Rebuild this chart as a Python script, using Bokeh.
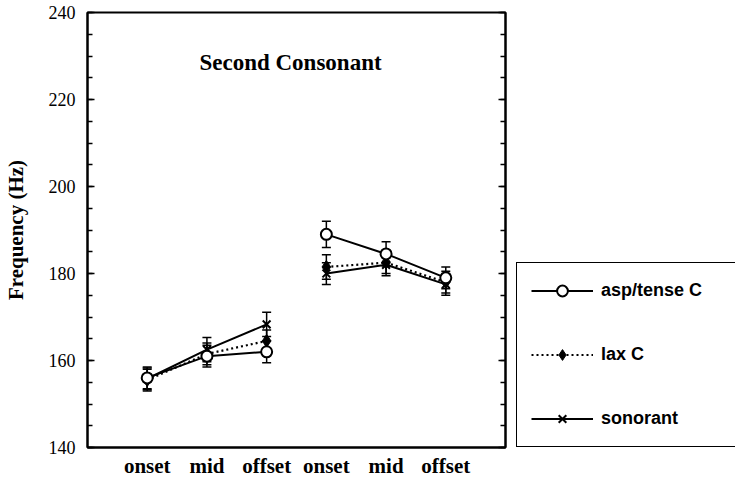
from bokeh.plotting import figure
from bokeh.layouts import row
from bokeh.models import (Range1d, LinearAxis, FixedTicker, Whisker, TeeHead,
                          ColumnDataSource, Legend, LegendItem, Label)
from bokeh.embed import file_html
from bokeh.resources import INLINE

# ---- data ----
x = [1, 2, 3, 4, 5, 6]
tick_labels = ["onset", "mid", "offset", "onset", "mid", "offset"]
asp = [156.0, 161.0, 162.0, 189.0, 184.5, 179.0]
asp_err = [2.5, 2.5, 2.5, 3.0, 2.8, 2.5]
lax = [155.5, 161.5, 164.5, 181.5, 182.5, 178.0]
lax_err = [2.5, 2.5, 2.5, 2.8, 2.5, 2.5]
son = [155.8, 162.5, 168.3, 180.0, 182.0, 177.5]
son_err = [2.5, 2.8, 2.8, 2.5, 2.5, 2.5]
series_names = ["asp/tense C", "lax C", "sonorant"]
title_text = "Second Consonant"
y_label = "Frequency (Hz)"
y_ticks = [140, 160, 180, 200, 220, 240]
y_minor = list(range(140, 241, 5))

p = figure(width=510, height=480, output_backend="svg", toolbar_location=None,
           x_range=Range1d(0, 7), y_range=Range1d(140, 240),
           min_border_left=87, min_border_right=5, min_border_top=12,
           min_border_bottom=32)
p.grid.visible = False
p.outline_line_color = "black"
p.outline_line_width = 2
p.background_fill_color = "white"
p.border_fill_color = "white"

# y axis
ya = p.yaxis[0]
ya.ticker = FixedTicker(ticks=y_ticks, minor_ticks=y_minor)
ya.major_tick_in = 7
ya.major_tick_out = 0
ya.minor_tick_in = 5
ya.minor_tick_out = 0
ya.axis_line_width = 2
ya.major_tick_line_width = 1.5
ya.minor_tick_line_width = 1.5
ya.major_label_text_font = "Liberation Serif"
ya.major_label_text_font_size = "18px"
ya.major_label_text_color = "black"
ya.major_label_standoff = 12
ya.axis_label = y_label
ya.axis_label_text_font = "Liberation Serif"
ya.axis_label_text_font_style = "bold"
ya.axis_label_text_font_size = "21px"
ya.axis_label_text_color = "black"
ya.axis_label_standoff = 18

# right axis: tick marks only, labels blank
ra = LinearAxis(ticker=FixedTicker(ticks=y_ticks, minor_ticks=y_minor))
ra.major_tick_in = 7
ra.major_tick_out = 0
ra.minor_tick_in = 5
ra.minor_tick_out = 0
ra.axis_line_width = 2
ra.major_tick_line_width = 1.5
ra.minor_tick_line_width = 1.5
ra.major_label_overrides = {t: "" for t in y_ticks}
ra.major_label_standoff = 0
p.add_layout(ra, "right")

# x axis
xa = p.xaxis[0]
xa.ticker = FixedTicker(ticks=x)
xa.major_label_overrides = {xi: lab for xi, lab in zip(x, tick_labels)}
xa.major_tick_in = 0
xa.major_tick_out = 0
xa.minor_tick_in = 0
xa.minor_tick_out = 0
xa.axis_line_width = 2
xa.major_label_text_font = "Liberation Serif"
xa.major_label_text_font_style = "bold"
xa.major_label_text_font_size = "21px"
xa.major_label_text_color = "black"
xa.major_label_standoff = 6

# error bars
def add_whisker(vals, errs):
    src = ColumnDataSource(dict(x=x,
                                upper=[v + e for v, e in zip(vals, errs)],
                                lower=[v - e for v, e in zip(vals, errs)]))
    w = Whisker(source=src, base="x", upper="upper", lower="lower",
                line_color="black", line_width=1.5,
                upper_head=TeeHead(size=9, line_width=1.5, line_color="black"),
                lower_head=TeeHead(size=9, line_width=1.5, line_color="black"))
    p.add_layout(w)

for v, e in [(asp, asp_err), (lax, lax_err), (son, son_err)]:
    add_whisker(v, e)

def split(a):
    return [a[:3], a[3:]]

STY = {
    "asp": dict(line=dict(line_color="black", line_width=2),
                mark=dict(marker="circle", size=11, fill_color="white",
                          line_color="black", line_width=2)),
    "lax": dict(line=dict(line_color="black", line_width=2.2, line_dash="2 3"),
                mark=dict(marker="diamond", size=13, fill_color="black",
                          line_color="black")),
    "son": dict(line=dict(line_color="black", line_width=2),
                mark=dict(marker="x", size=11, line_color="black", line_width=2)),
}

# lines and markers in the main plot
for key, vals in [("asp", asp), ("lax", lax), ("son", son)]:
    p.multi_line(xs=split(x), ys=split(vals), **STY[key]["line"])
for key, vals in [("son", son), ("lax", lax), ("asp", asp)]:
    p.scatter(x, vals, **STY[key]["mark"])

# legend panel (separate figure to the right)
q = figure(width=225, height=480, output_backend="svg", toolbar_location=None,
           x_range=Range1d(0, 1), y_range=Range1d(0, 1),
           x_axis_type=None, y_axis_type=None,
           min_border_left=0, min_border_right=0, min_border_top=0,
           min_border_bottom=0)
q.grid.visible = False
q.outline_line_color = None
q.background_fill_color = "white"
q.border_fill_color = "white"

nan = float("nan")
items = []
for name, key in zip(series_names, ["asp", "lax", "son"]):
    # legend-only proxies (not shown in the frame)
    lr = q.multi_line(xs=[[nan]], ys=[[nan]], **STY[key]["line"])
    mr = q.scatter(x=[nan], y=[nan], **STY[key]["mark"])
    items.append(LegendItem(label=name, renderers=[lr, mr]))

legend = Legend(items=items, location=(6, 0))
legend.label_text_font = "Liberation Sans"
legend.label_text_font_style = "bold"
legend.label_text_font_size = "18px"
legend.label_text_color = "black"
legend.glyph_width = 62
legend.glyph_height = 27
legend.label_height = 27
legend.label_standoff = 8
legend.label_width = 127
legend.spacing = 37
legend.padding = 14
legend.margin = 0
legend.border_line_color = "black"
legend.border_line_alpha = 1
legend.border_line_width = 1.5
legend.background_fill_color = "white"
legend.background_fill_alpha = 1
q.add_layout(legend)

p.add_layout(Label(x=3.4, y=228.5, text=title_text, text_font="Liberation Serif",
                   text_font_style="bold", text_font_size="23px",
                   text_align="center", text_baseline="middle", text_color="black"))

layout = row(p, q, spacing=0)
open("out.html", "w").write(file_html(layout, INLINE))
